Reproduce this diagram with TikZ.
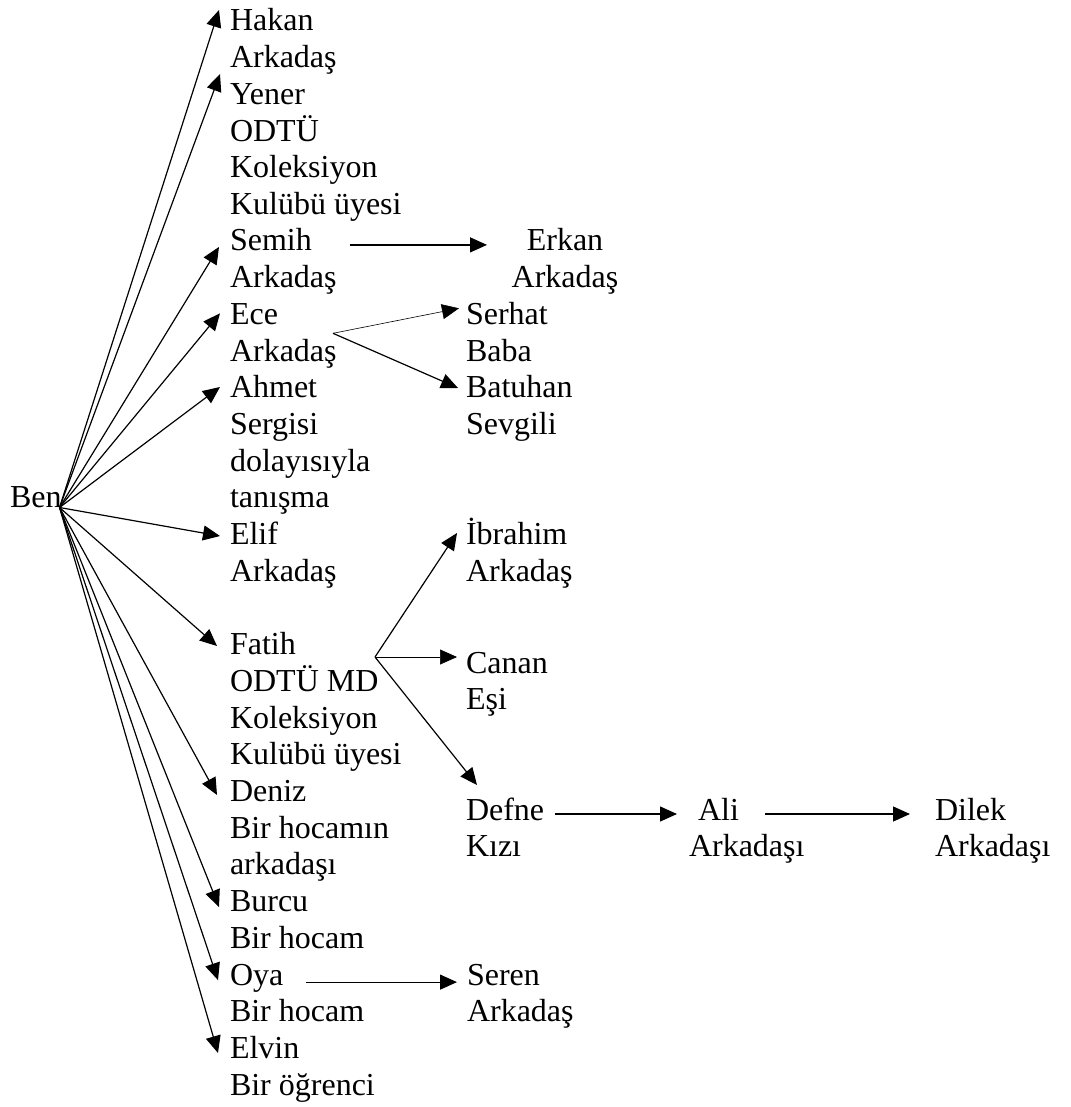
\documentclass[tikz,border=0pt]{standalone}
\usepackage{fontspec}
\setmainfont{Liberation Serif}
\usetikzlibrary{arrows.meta}
\newcommand\stkl[1]{\begin{tabular}[t]{@{}l@{}}#1\end{tabular}}
\newcommand\stkc[1]{\begin{tabular}[t]{@{}c@{}}#1\end{tabular}}
\begin{document}
\begin{tikzpicture}[x=1pt,y=-1pt,
  lbl/.style={inner sep=0pt,outer sep=0pt,anchor=base west,
    font=\fontsize{32}{36.7}\selectfont},
  clbl/.style={lbl,anchor=base},
  conn/.style={line width=1.2pt,-{Triangle[length=17pt,width=15pt]}},
  thin conn/.style={conn,line width=0.6pt}]
\useasboundingbox (0,0) rectangle (1070,1107);
\node[lbl] (ben) at (10,507.5) {Ben};
\coordinate (o) at ([shift={(-2,0)}]ben.base east);
% main column
\node[lbl] (hakan) at (230,30.7) {\stkl{Hakan\\Arkadaş}};
\node[lbl] (yener) at (230,104.1) {\stkl{Yener\\ODTÜ\\Koleksiyon\\Kulübü üyesi}};
\node[lbl] (semih) at (230,250.9) {\stkl{Semih\\Arkadaş}};
\node[lbl] (ece) at (230,324.3) {\stkl{Ece\\Arkadaş}};
\node[lbl] (ahmet) at (230,397.7) {\stkl{Ahmet\\Sergisi\\dolayısıyla\\tanışma}};
\node[lbl] (elif) at (230,544.5) {\stkl{Elif\\Arkadaş}};
\node[lbl] (fatih) at (230,654.6) {\stkl{Fatih\\ODTÜ MD\\Koleksiyon\\Kulübü üyesi}};
\node[lbl] (deniz) at (230,801.4) {\stkl{Deniz\\Bir hocamın\\arkadaşı}};
\node[lbl] (burcu) at (230,911.5) {\stkl{Burcu\\Bir hocam}};
\node[lbl] (oya) at (230,985.1) {\stkl{Oya\\Bir hocam}};
\node[lbl] (elvin) at (230,1058.3) {\stkl{Elvin\\Bir öğrenci}};
% second column
\node[clbl] (erkan) at (565,250.9) {\stkc{Erkan\\Arkadaş}};
\node[lbl] (serhat) at (466,324.3) {\stkl{Serhat\\Baba}};
\node[lbl] (batuhan) at (466,397.7) {\stkl{Batuhan\\Sevgili}};
\node[lbl] (ibrahim) at (466,544.5) {\stkl{İbrahim\\Arkadaş}};
\node[lbl] (canan) at (466,673) {\stkl{Canan\\Eşi}};
\node[lbl] (defne) at (466,820) {\stkl{Defne\\Kızı}};
\node[lbl] (seren) at (467,985.1) {\stkl{Seren\\Arkadaş}};
\node[lbl] (ali) at (689,820) {\stkl{\hspace*{9pt}Ali\\Arkadaşı}};
\node[lbl] (dilek) at (935,820) {\stkl{Dilek\\Arkadaşı}};
% connectors from Ben
\draw[conn] (o) -- ([shift={(-11,-20.7)}]hakan.base west);
\draw[conn] (o) -- ([shift={(-10,-30)}]yener.base west);
\draw[conn] (o) -- ([shift={(-11,-4)}]semih.base west);
\draw[conn] (o) -- ([shift={(-10,-11)}]ece.base west);
\draw[conn] (o) -- ([shift={(-10,-10.7)}]ahmet.base west);
\draw[conn] (o) -- ([shift={(-10,-8.5)}]elif.base west);
\draw[conn] (o) -- ([shift={(-13,-8.6)}]fatih.base west);
\draw[conn] (o) -- ([shift={(-13,-6.4)}]deniz.base west);
\draw[conn] (o) -- ([shift={(-11,-4.5)}]burcu.base west);
\draw[conn] (o) -- ([shift={(-12,-5)}]oya.base west);
\draw[conn] (o) -- ([shift={(-12,-5.3)}]elvin.base west);
% secondary connectors
\draw[conn] ([shift={(120,-6)}]semih.base west) -- ([shift={(-78,-6)}]erkan.base);
\coordinate (ecefork) at ([shift={(103,9)}]ece.base west);
\draw[thin conn] (ecefork) -- ([shift={(-7,-16)}]serhat.base west);
\draw[conn] (ecefork) -- ([shift={(-8,-9.7)}]batuhan.base west);
\coordinate (fatihfork) at ([shift={(145,2.4)}]fatih.base west);
\draw[conn] (fatihfork) -- ([shift={(-9,-11.5)}]ibrahim.base west);
\draw[thin conn] (fatihfork) -- ([shift={(-9,-16)}]canan.base west);
\draw[conn] (fatihfork) -- ([shift={(11,-35)}]defne.base west);
\draw[conn] ([shift={(89,-6)}]defne.base west) -- ([shift={(-12,-6)}]ali.base west);
\draw[conn] ([shift={(76,-6)}]ali.base west) -- ([shift={(-25,-6)}]dilek.base west);
\draw[conn] ([shift={(76,-3)}]oya.base west) -- ([shift={(-10,-3)}]seren.base west);
\end{tikzpicture}
\end{document}
